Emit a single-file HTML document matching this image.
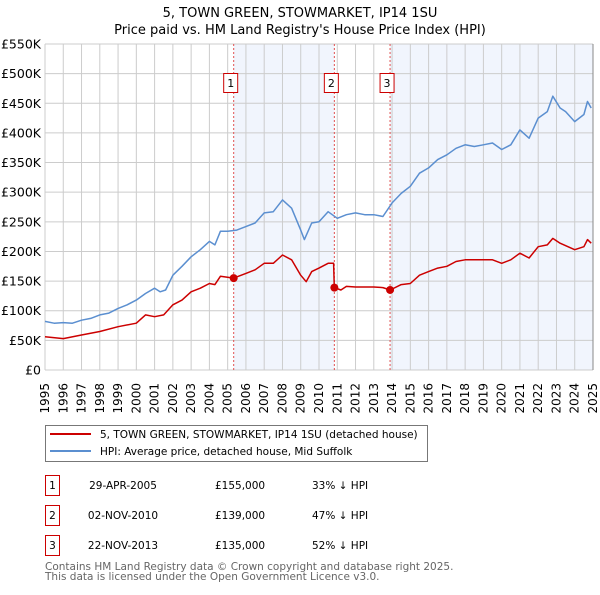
<!DOCTYPE html>
<html><head><meta charset="utf-8"><style>
body{margin:0;background:#fff;font-family:"Liberation Sans","DejaVu Sans",sans-serif;}
svg text{font-family:"DejaVu Sans","Liberation Sans",sans-serif;}
</style></head><body>
<svg id="c" width="600" height="590" xmlns="http://www.w3.org/2000/svg">
<text x="300" y="17" text-anchor="middle" font-size="13">5, TOWN GREEN, STOWMARKET, IP14 1SU</text>
<text x="300" y="34" text-anchor="middle" font-size="13">Price paid vs. HM Land Registry's House Price Index (HPI)</text>
<g id="plot"></g>
<g>
<rect x="45.5" y="425.5" width="382" height="36" fill="#fff" stroke="#777"/>
<line x1="50" y1="434" x2="91" y2="434" stroke="#cc0000" stroke-width="2"/>
<text x="100" y="438" font-size="10.5">5, TOWN GREEN, STOWMARKET, IP14 1SU (detached house)</text>
<line x1="50" y1="451" x2="91" y2="451" stroke="#5b8fd0" stroke-width="2"/>
<text x="100" y="455" font-size="10.5">HPI: Average price, detached house, Mid Suffolk</text>
</g>
<g id="tbl" font-size="10.5"></g>
<text x="45" y="570" font-size="10.5" fill="#666">Contains HM Land Registry data © Crown copyright and database right 2025.</text>
<text x="45" y="580" font-size="10.5" fill="#666">This data is licensed under the Open Government Licence v3.0.</text>
</svg>
<script>
const hpiYears=[1995,1995.5,1996,1996.5,1997,1997.5,1998,1998.5,1999,1999.5,2000,2000.5,2001,2001.3,2001.6,2002,2002.5,2003,2003.5,2004,2004.3,2004.6,2005,2005.5,2006,2006.5,2007,2007.5,2008,2008.5,2009,2009.2,2009.6,2010,2010.5,2011,2011.5,2012,2012.5,2013,2013.5,2014,2014.5,2015,2015.5,2016,2016.5,2017,2017.5,2018,2018.5,2019,2019.5,2020,2020.5,2021,2021.5,2022,2022.5,2022.8,2023.2,2023.5,2024,2024.5,2024.7,2024.9];
const hpiValues=[82,79,80,79,84,87,93,96,104,110,118,129,138,132,135,160,175,191,203,217,211,234,234,236,242,248,265,267,287,273,236,220,248,250,267,256,262,265,262,262,259,282,298,310,332,341,355,363,374,380,377,380,383,372,380,405,391,425,436,462,442,436,419,431,453,442];
const ppYears=[1995,1996,1997,1998,1999,2000,2000.5,2001,2001.5,2002,2002.5,2003,2003.5,2004,2004.3,2004.6,2005.33,2006,2006.5,2007,2007.5,2008,2008.5,2009,2009.3,2009.6,2010,2010.5,2010.8,2010.84,2011.2,2011.5,2012,2012.5,2013,2013.5,2013.9,2014.5,2015,2015.5,2016,2016.5,2017,2017.5,2018,2019,2019.5,2020,2020.5,2021,2021.5,2022,2022.5,2022.8,2023.2,2024,2024.5,2024.7,2024.9];
const ppValues=[56,53,59,65,73,79,93,90,93,110,118,132,138,146,144,158,155,163,169,180,180,194,186,160,149,166,172,180,180,139,135,141,140,140,140,139,135,144,146,160,166,172,175,183,186,186,186,180,186,197,189,208,211,222,214,203,208,220,214];
const saleYears=[2005.33,2010.84,2013.89];
const salePrices=[155,139,135];
const saleLabels=["1","2","3"];
const saleDates=["29-APR-2005","02-NOV-2010","22-NOV-2013"];
const salePriceText=["£155,000","£139,000","£135,000"];
const saleHpiText=["33% ↓ HPI","47% ↓ HPI","52% ↓ HPI"];
const yTicks=[0,50,100,150,200,250,300,350,400,450,500,550];
const yTickLabels=["£0","£50K","£100K","£150K","£200K","£250K","£300K","£350K","£400K","£450K","£500K","£550K"];
const xTicks=[1995,1996,1997,1998,1999,2000,2001,2002,2003,2004,2005,2006,2007,2008,2009,2010,2011,2012,2013,2014,2015,2016,2017,2018,2019,2020,2021,2022,2023,2024,2025];

const NS="http://www.w3.org/2000/svg";
const L=45,R=593,T=44,B=370;
const X=y=>L+(y-1995)/30*(R-L);
const Y=v=>B-v/550*(B-T);
function mk(tag,attrs,parent){const e=document.createElementNS(NS,tag);for(const k in attrs)e.setAttribute(k,attrs[k]);parent.appendChild(e);return e;}
const g=document.getElementById('plot');
const bg=mk('rect',{x:L,y:T,width:R-L,height:B-T,fill:'#fff'},g);


const sh1=mk('rect',{x:X(saleYears[0]),y:T,width:X(saleYears[1])-X(saleYears[0]),height:B-T,fill:'#eef3fc',opacity:0.8},g);


const sh2=mk('rect',{x:X(saleYears[2]),y:T,width:R-X(saleYears[2]),height:B-T,fill:'#eef3fc',opacity:0.8},g);


xTicks.forEach(t=>{const l=mk('line',{x1:X(t),x2:X(t),y1:T,y2:B,stroke:'#ccc','stroke-width':1},g);


const tx=mk('text',{transform:`translate(${X(t)+4},383) rotate(-90)`,'text-anchor':'end','font-size':12},g);tx.textContent=t;

});
yTicks.forEach((t,i)=>{const l=mk('line',{x1:L,x2:R,y1:Y(t),y2:Y(t),stroke:'#ccc','stroke-width':1},g);


const tx=mk('text',{x:L-4,y:Y(t)+4.5,'text-anchor':'end','font-size':12.5},g);tx.textContent=yTickLabels[i];

});
const rb=mk('line',{x1:R,x2:R,y1:T,y2:B,stroke:'#888','stroke-width':1},g);


saleYears.forEach((s,i)=>{const l=mk('line',{x1:X(s),x2:X(s),y1:T,y2:B,stroke:'#e05050','stroke-width':1,'stroke-dasharray':'2,2'},g);


const bx=X(s)-10;
const r=mk('rect',{x:bx,y:73.5,width:14,height:19,fill:'#fff',stroke:'#cc0000'},g);


const tx=mk('text',{x:bx+7,y:87,'text-anchor':'middle','font-size':11},g);tx.textContent=saleLabels[i];

});
const line=(xs,vs,col,name)=>{const p=mk('polyline',{points:xs.map((x,i)=>X(x).toFixed(1)+','+Y(vs[i]).toFixed(1)).join(' '),fill:'none',stroke:col,'stroke-width':1.5,'stroke-linejoin':'round'},g);

};
line(hpiYears,hpiValues,'#5b8fd0','hpi-line');
line(ppYears,ppValues,'#cc0000','property-line');
saleYears.forEach((s,i)=>{const c=mk('circle',{cx:X(s),cy:Y(salePrices[i]),r:4,fill:'#cc0000'},g);

});
const tb=document.getElementById('tbl');
saleDates.forEach((d,i)=>{const y0=475+i*30;
const r=mk('rect',{x:45.5,y:y0+0.5,width:14,height:20,fill:'#fff',stroke:'#cc0000'},tb);


const n=mk('text',{x:52.5,y:y0+14,'text-anchor':'middle'},tb);n.textContent=saleLabels[i];


const a=mk('text',{x:123,y:y0+14,'text-anchor':'middle'},tb);a.textContent=d;


const b=mk('text',{x:215,y:y0+14},tb);b.textContent=salePriceText[i];


const c=mk('text',{x:312,y:y0+14},tb);c.textContent=saleHpiText[i];

});
</script>
</body></html>
